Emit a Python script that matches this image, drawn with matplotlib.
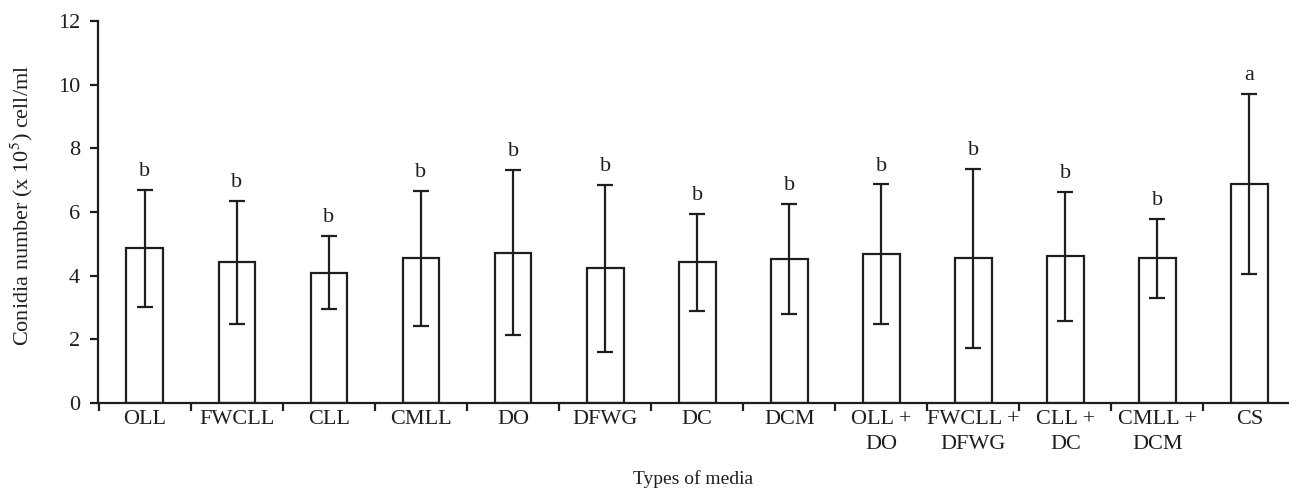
import numpy as np
import matplotlib
matplotlib.use('Agg')
import matplotlib.pyplot as plt
import matplotlib.ticker as ticker

# Font setup: Times-like serif
plt.rcParams['font.family'] = ['Liberation Serif', 'DejaVu Serif']
plt.rcParams['mathtext.fontset'] = 'stix'

ink = '#1e1e1e'
fs = 16

# Data
media = ['OLL', 'FWCLL', 'CLL', 'CMLL', 'DO', 'DFWG', 'DC', 'DCM',
         'OLL +\nDO', 'FWCLL +\nDFWG', 'CLL +\nDC', 'CMLL +\nDCM', 'CS']
conidia = [4.86, 4.42, 4.10, 4.55, 4.73, 4.23, 4.42, 4.53,
           4.67, 4.55, 4.61, 4.55, 6.89]
err_sd = [1.83, 1.93, 1.15, 2.12, 2.58, 2.63, 1.52, 1.72,
          2.20, 2.81, 2.02, 1.24, 2.82]
letters = ['b', 'b', 'b', 'b', 'b', 'b', 'b', 'b',
           'b', 'b', 'b', 'b', 'a']


# Geometry of the figure
fig, ax = plt.subplots(figsize=(12.89, 4.91), dpi=100)
plt.subplots_adjust(left=0.076, right=1.0, bottom=0.179, top=0.957)

x = np.arange(len(media))

# Bars with error bars
ax.bar(x, conidia, width=0.4, color='white', edgecolor=ink, linewidth=1.6, zorder=2)
ax.errorbar(x, conidia, yerr=err_sd, fmt='none', ecolor=ink, elinewidth=1.6,
            capsize=5.5, capthick=1.6, zorder=3)

# Significance letters above the error bars
for xi, m, e, lt in zip(x, conidia, err_sd, letters):
    ax.text(xi, m + e + 0.28, lt, ha='center', va='bottom', fontsize=fs, color=ink)

# Axis limits
ax.set_xlim(-0.51, 12.43)
ax.set_ylim(0, 12)

# Spines
ax.spines['top'].set_visible(False)
ax.spines['right'].set_visible(False)
for s in ['left', 'bottom']:
    ax.spines[s].set_color(ink)
    ax.spines[s].set_linewidth(1.6)

# Ticks: y ticks outward, x ticks between categories
ax.yaxis.set_major_locator(ticker.MultipleLocator(2))
ax.tick_params(axis='y', direction='out', length=6, width=1.6, color=ink,
               labelsize=fs, labelcolor=ink, pad=7)
ax.xaxis.set_major_locator(ticker.FixedLocator(np.arange(-0.5, 12.5, 1.0)))
ax.xaxis.set_major_formatter(ticker.NullFormatter())
ax.xaxis.set_minor_locator(ticker.FixedLocator(x))
ax.xaxis.set_minor_formatter(ticker.FixedFormatter(media))
ax.tick_params(axis='x', which='major', direction='out', length=6, width=1.6, color=ink)
ax.tick_params(axis='x', which='minor', length=0, labelsize=fs, labelcolor=ink, pad=5)
for lab in ax.get_xticklabels(minor=True):
    lab.set_linespacing(1.42)
    lab.set_ha('center')

# Labels
ax.set_ylabel(r'Conidia number (x 10$^5$) cell/ml', fontsize=16, color=ink)
ax.yaxis.set_label_coords(-0.053, 0.518)
ax.set_xlabel('Types of media', fontsize=14, color=ink, labelpad=12)

fig.savefig('out.png', dpi=100)
